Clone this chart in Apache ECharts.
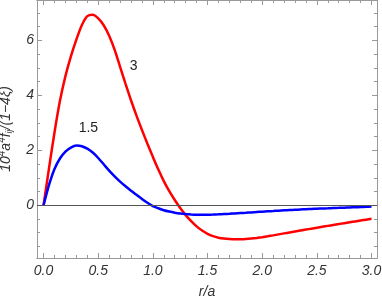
<!DOCTYPE html>
<html><head><meta charset="utf-8">
<script src="https://cdn.jsdelivr.net/npm/echarts@6/dist/echarts.min.js"></script>
<style>html,body{margin:0;padding:0;background:#fff}#c{width:382px;height:300px}</style>
</head><body><div id="c"></div>
<script>
var xs = [0,0.05,0.1,0.15,0.2,0.25,0.3,0.35,0.4,0.45,0.5,0.55,0.6,0.65,0.7,0.75,0.8,0.85,0.9,0.95,
  1.0,1.05,1.1,1.15,1.2,1.25,1.3,1.35,1.4,1.45,1.5,1.55,1.6,1.65,1.7,1.75,1.8,1.85,1.9,1.95,
  2.0,2.05,2.1,2.15,2.2,2.25,2.3,2.35,2.4,2.45,2.5,2.55,2.6,2.65,2.7,2.75,2.8,2.85,2.9,2.95,3.0];
var red3 = [0,1.35,2.65,3.8,4.7,5.42,6.03,6.55,6.88,6.93,6.8,6.55,6.17,5.66,5.04,4.42,3.82,3.26,2.74,2.24,
  1.76,1.3,0.88,0.51,0.19,-0.1,-0.36,-0.58,-0.77,-0.92,-1.04,-1.125,-1.18,-1.213,-1.231,-1.239,-1.237,-1.228,-1.212,-1.19,
  -1.163,-1.131,-1.096,-1.06,-1.024,-0.989,-0.954,-0.92,-0.886,-0.852,-0.818,-0.784,-0.751,-0.718,-0.685,-0.652,-0.62,-0.588,-0.556,-0.524,-0.492];
var blue15 = [0,0.74,1.32,1.7,1.95,2.1,2.17,2.15,2.06,1.92,1.72,1.49,1.26,1.05,0.86,0.69,0.53,0.38,0.23,0.09,
  -0.03,-0.11,-0.18,-0.23,-0.27,-0.3,-0.32,-0.335,-0.345,-0.347,-0.345,-0.338,-0.33,-0.32,-0.31,-0.298,-0.285,-0.273,-0.26,-0.247,
  -0.235,-0.222,-0.21,-0.197,-0.185,-0.175,-0.165,-0.155,-0.145,-0.136,-0.127,-0.118,-0.11,-0.102,-0.095,-0.087,-0.08,-0.072,-0.065,-0.057,-0.05];
var seriesLabels = ['3','1.5'];
var labelPos = [[0.825,5.07],[0.41,2.81]];
var xMajor = [0,0.5,1,1.5,2,2.5,3];
var xMinor = [0.1,0.2,0.3,0.4,0.6,0.7,0.8,0.9,1.1,1.2,1.3,1.4,1.6,1.7,1.8,1.9,2.1,2.2,2.3,2.4,2.6,2.7,2.8,2.9];
var yMajor = [0,2,4,6];
var yMinor = [-1.5,-1,-0.5,0.5,1,1.5,2.5,3,3.5,4.5,5,5.5,6.5,7];
var X_MIN=-0.06, X_MAX=3.05, Y_MIN=-1.92, Y_MAX=7.47;

function pairs(a){return xs.map(function(x,i){return [x,a[i]];});}
var frameColor='#999';
var labelFont={fontFamily:'Liberation Sans',fontStyle:'italic',fontSize:14,color:'#333'};
function xAx(pos,vals,len,showLabel){
  return {type:'value',position:pos,min:X_MIN,max:X_MAX,
    axisLine:{show:true,onZero:false,lineStyle:{color:frameColor,width:1}},
    axisTick:{show:true,inside:true,length:len,customValues:vals,lineStyle:{color:frameColor}},
    axisLabel:Object.assign({show:showLabel,margin:6,customValues:xMajor,formatter:function(v){return v.toFixed(1);}},labelFont),
    splitLine:{show:false}};
}
function yAx(pos,vals,len,showLabel){
  return {type:'value',position:pos,min:Y_MIN,max:Y_MAX,
    axisLine:{show:true,onZero:false,lineStyle:{color:frameColor,width:1}},
    axisTick:{show:true,inside:true,length:len,customValues:vals,lineStyle:{color:frameColor}},
    axisLabel:Object.assign({show:showLabel,margin:3,customValues:yMajor},labelFont),
    splitLine:{show:false}};
}
var xAxes=[xAx('bottom',xMajor,5,true),xAx('bottom',xMinor,3,false),xAx('top',xMajor,5,false),xAx('top',xMinor,3,false)];
xAxes[0].name='r/a';xAxes[0].nameLocation='middle';xAxes[0].nameGap=27;
xAxes[0].nameTextStyle={fontFamily:'Liberation Sans',fontStyle:'italic',fontSize:14,color:'#333'};
var yAxes=[yAx('left',yMajor,5,true),yAx('left',yMinor,3,false),yAx('right',yMajor,5,false),yAx('right',yMinor,3,false)];
yAxes[0].name='{a|10}{s|4}{a|a}{s|4}{a|f}{b|ij}{a|/(1\u22124\u03BE)}';
yAxes[0].nameLocation='middle';yAxes[0].nameRotate=90;yAxes[0].nameGap=21;
var base={fontFamily:'Liberation Sans',fontStyle:'italic',color:'#333'};
yAxes[0].nameTextStyle={rich:{
  a:Object.assign({fontSize:14,lineHeight:18},base),
  s:Object.assign({fontSize:10,lineHeight:18,padding:[0,0,8,0]},base),
  b:Object.assign({fontSize:9,lineHeight:18,padding:[6,0,0,0]},base)}};

var chart=echarts.init(document.getElementById('c'));
chart.setOption({
  animation:false,
  grid:{left:37,right:5,top:0,bottom:42,containLabel:false,outerBoundsMode:'none'},
  xAxis:xAxes, yAxis:yAxes,
  series:[
    {type:'line',name:seriesLabels[0],data:pairs(red3),smooth:0.25,showSymbol:false,symbol:'none',
     lineStyle:{color:'#ff0000',width:2.5},z:3,
     markPoint:{symbol:'circle',symbolSize:0,data:[{coord:labelPos[0],value:seriesLabels[0]}],
       label:{show:true,position:'inside',fontFamily:'Liberation Sans',fontSize:14,color:'#222',formatter:'{c}'}}},
    {type:'line',name:seriesLabels[1],data:pairs(blue15),smooth:0.25,showSymbol:false,symbol:'none',
     lineStyle:{color:'#0000ff',width:2.5},z:4,
     markLine:{silent:true,symbol:['none','none'],label:{show:false},lineStyle:{color:'#555',width:1,type:'solid'},
       data:[{yAxis:0}]},
     markPoint:{symbol:'circle',symbolSize:0,data:[{coord:labelPos[1],value:seriesLabels[1]}],
       label:{show:true,position:'inside',fontFamily:'Liberation Sans',fontSize:14,color:'#222',formatter:'{c}'}}}
  ]
});
</script></body></html>
